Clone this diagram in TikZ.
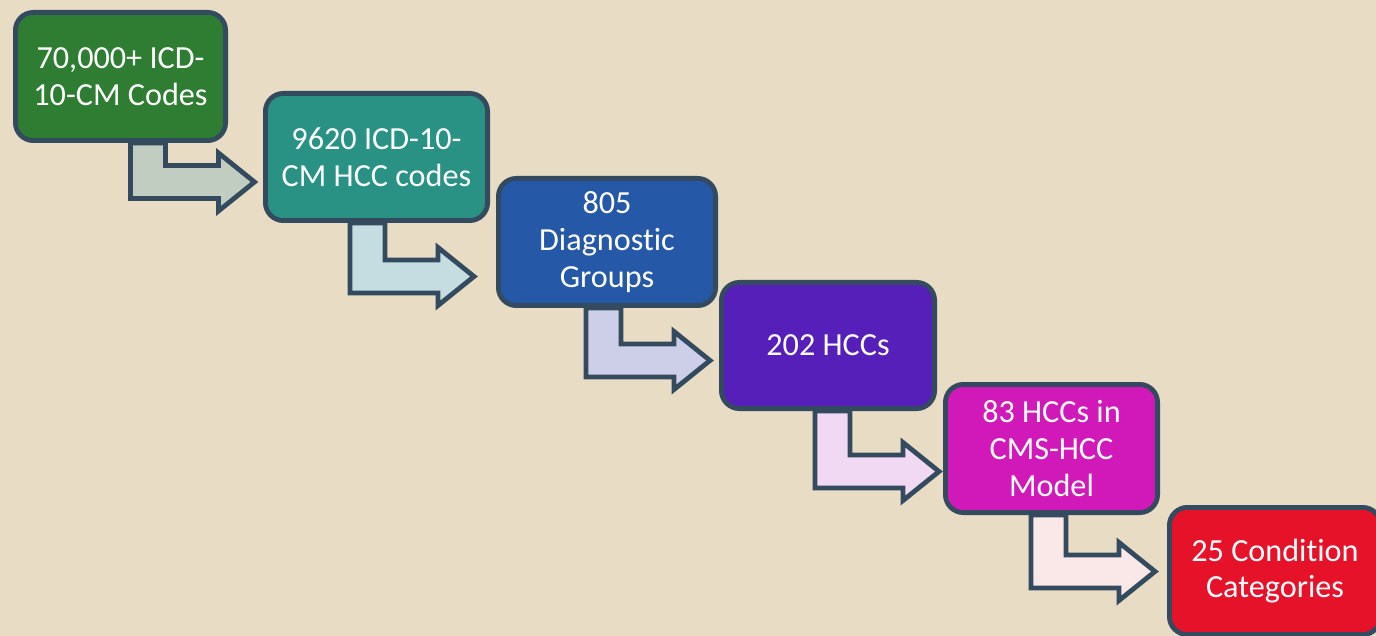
\documentclass[tikz,border=0pt]{standalone}
\usepackage{fontspec}
\setmainfont[RawFeature={-liga}]{Carlito}
\usetikzlibrary{calc}
\definecolor{bgcol}{HTML}{E8DCC5}
\definecolor{bordercol}{HTML}{344A5E}
\definecolor{cA}{HTML}{2E7D32}
\definecolor{cB}{HTML}{2A9185}
\definecolor{cC}{HTML}{2658A8}
\definecolor{cD}{HTML}{561FB9}
\definecolor{cE}{HTML}{D119B9}
\definecolor{cF}{HTML}{E5122A}
\definecolor{aA}{HTML}{C0CDC0}
\definecolor{aB}{HTML}{C5DDE0}
\definecolor{aC}{HTML}{CDCFE9}
\definecolor{aD}{HTML}{F1D8F3}
\definecolor{aE}{HTML}{FAE8E8}
\tikzset{
  stepbox/.style={draw=bordercol, line width=2.4pt, rounded corners=9pt,
    text=white, align=center, inner sep=0pt,
    font=\fontsize{16.1}{18.3}\selectfont},
  bentarr/.style={draw=bordercol, line width=2.4pt, line join=miter}
}
% #1 from node, #2 stem left x (px), #3 shaft top y (px), #4 fill colour
\newcommand\bentarrow[4]{%
  \path let \p1=(#1.south) in [bentarr, fill=#4]
    (#2,\y1) -- ({#2+35},\y1) -- ({#2+35},#3) -- ({#2+88},#3)
    -- ({#2+88},{#3-12.5}) -- ({#2+124},{#3+16.5}) -- ({#2+88},{#3+45.5})
    -- ({#2+88},{#3+33}) -- (#2,{#3+33}) -- cycle;
}
\begin{document}
\begin{tikzpicture}[x=0.5pt,y=-0.5pt]
\useasboundingbox (0,0) rectangle (1376,636);
\clip (0,0) rectangle (1376,636);
\fill[bgcol] (0,0) rectangle (1376,636);
\node[stepbox, fill=cA, minimum width=105.1pt, minimum height=64.1pt] (n1) at (120.5,76.5) {70,000+ ICD-\\10-CM Codes};
\node[stepbox, fill=cB, minimum width=111.1pt, minimum height=63.6pt] (n2) at (376.5,157) {9620 ICD-10-\\CM HCC codes};
\node[stepbox, fill=cC, minimum width=108.6pt, minimum height=63.6pt] (n3) at (607,242) {805\\Diagnostic\\Groups};
\node[stepbox, fill=cD, minimum width=106.6pt, minimum height=63.1pt] (n4) at (828,345.5) {202 HCCs};
\node[stepbox, fill=cE, minimum width=106.1pt, minimum height=64.1pt] (n5) at (1051.5,448.5) {83 HCCs in\\CMS-HCC\\Model};
\node[stepbox, fill=cF, minimum width=105.6pt, minimum height=63.6pt] (n6) at (1275,571) {25 Condition\\Categories};
\bentarrow{n1}{130.5}{165.5}{aA}
\bentarrow{n2}{350}{260}{aB}
\bentarrow{n3}{586}{344}{aC}
\bentarrow{n4}{815}{455}{aD}
\bentarrow{n5}{1031}{555}{aE}
\end{tikzpicture}
\end{document}
